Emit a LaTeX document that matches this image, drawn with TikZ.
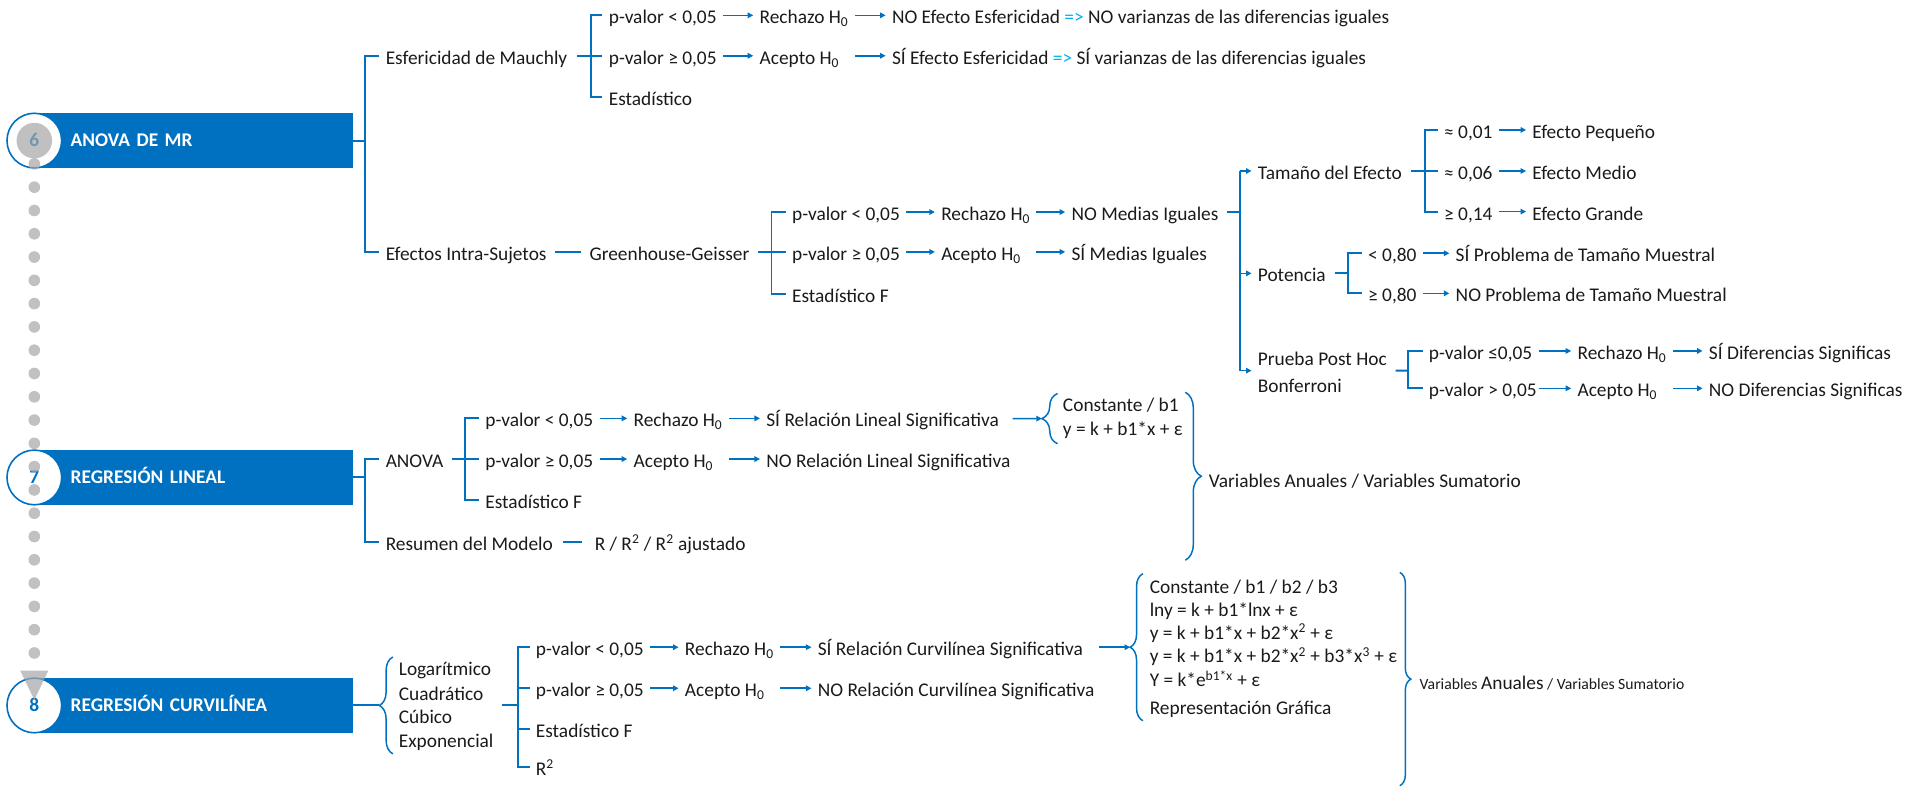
\documentclass[tikz,border=0pt]{standalone}
\usepackage{fontspec}
\setmainfont{Carlito}
\usetikzlibrary{arrows.meta,calc,decorations.pathreplacing}
\definecolor{azul}{HTML}{0070C0}
\definecolor{celeste}{HTML}{00B0F0}
\definecolor{gris}{HTML}{A6A6A6}
\definecolor{tinta}{HTML}{1A1A1A}
\newcommand{\fnorm}{\fontsize{15.8pt}{19pt}\selectfont}
\newcommand{\fchico}{\fontsize{12.8pt}{15pt}\selectfont}

\begin{document}
\begin{tikzpicture}[x=1pt,y=-1pt,>={Triangle[length=4.5pt,width=4.5pt]},
  txt/.style={anchor=west,inner xsep=5pt,inner ysep=0pt,text height=14pt,text depth=0pt,font=\fnorm,text=tinta},
  banda/.style={anchor=west,fill=azul,text=white,font=\fnorm\bfseries,minimum height=44.3pt,
    text width=200.5pt,inner xsep=29.5pt,inner ysep=0pt,text height=10.2pt,text depth=0pt,align=left},
  numero/.style={circle,draw=azul,fill=white,line width=1.3pt,minimum size=44.6pt,inner sep=0pt,
    font=\fnorm\bfseries,text=azul,text height=10pt,text depth=0pt},
  brk/.style={draw=azul,line width=1.6pt},
  arr/.style={draw=azul,line width=1.3pt,->},
  llave/.style={draw=azul,line width=1.2pt,decorate,decoration={brace,amplitude=#1}},
  puntos/.style={gris,opacity=.7,line width=9.5pt,line cap=round,dash pattern=on 0pt off 19pt}]
  \useasboundingbox (0,0) rectangle (1568,642);

  % bandas y numeros
  \node[banda] (b6) at (28,114.7) {ANOVA DE MR};
  \node[banda] (b7) at (28,389.5) {REGRESIÓN LINEAL};
  \node[banda] (b8) at (28,575.5) {REGRESIÓN CURVILÍNEA};
  \node[numero] (n6) at (28,114.7) {6};
  \node[numero] (n7) at (28,389.5) {7};
  \node[numero] (n8) at (28,575.5) {8};
  % linea de puntos 6 -> 8
  \fill[gris,opacity=.7] (n6.center) circle (14.5);
  \draw[puntos,-{Triangle[length=24pt,width=23pt,line width=0pt]}]
    ([yshift=-19pt]n6.center) -- ([yshift=4.5pt]n8.center);

  % 6: ANOVA DE MR
  \node[txt] (mau) at (309.5,45.5) {Esfericidad de Mauchly};
  \node[txt] (ef) at (309.5,205.5) {Efectos Intra-Sujetos};
  \coordinate (bA) at (298,114.7);
  \draw[brk] (b6.east) -- (bA);
  \draw[brk] (mau.west) -| (bA) |- (ef.west);

  % esfericidad
  \node[txt] (pM1) at (491.5,12.5) {p-valor < 0,05};
  \node[txt] (pM2) at (491.5,45.5) {p-valor ≥ 0,05};
  \node[txt] (pM3) at (491.5,79) {Estadístico};
  \coordinate (bM) at (482,45.5);
  \draw[brk,shorten <=3pt] (mau) -- (bM);
  \draw[brk] (pM1.west) -| (bM) |- (pM3.west);
  \draw[brk] (bM) -- (pM2.west);
  \node[txt] (rM1) at (614.5,12.5) {Rechazo H\textsubscript{0}};
  \node[txt] (rM2) at (614.5,45.5) {Acepto H\textsubscript{0}};
  \node[txt] (eM1) at (722.5,12.5) {NO Efecto Esfericidad {\color{celeste}=>} NO varianzas de las diferencias iguales};
  \node[txt] (eM2) at (722.5,45.5) {SÍ Efecto Esfericidad {\color{celeste}=>} SÍ varianzas de las diferencias iguales};
  \draw[arr] (pM1) -- (rM1);
  \draw[arr] (pM2) -- (rM2);
  \draw[arr] (rM1) -- (eM1);
  \draw[arr] (rM1.east |- rM2) -- (eM2);

  % intra-sujetos
  \node[txt] (gg) at (475.8,205.5) {Greenhouse-Geisser};
  \draw[brk,shorten <=2pt,shorten >=2pt] (ef) -- (gg);
  \node[txt] (pG1) at (641,173) {p-valor < 0,05};
  \node[txt] (pG2) at (641,205.5) {p-valor ≥ 0,05};
  \node[txt] (pG3) at (641,239.5) {Estadístico F};
  \coordinate (bG) at (629.4,205.5);
  \draw[brk,shorten <=2pt] (gg) -- (bG);
  \draw[brk] (pG1.west) -| (bG) |- (pG3.west);
  \draw[brk] (bG) -- (pG2.west);
  \node[txt] (rG1) at (762.7,173) {Rechazo H\textsubscript{0}};
  \node[txt] (rG2) at (762.7,205.5) {Acepto H\textsubscript{0}};
  \node[txt] (mG1) at (869,173) {NO Medias Iguales};
  \node[txt] (mG2) at (869,205.5) {SÍ Medias Iguales};
  \draw[arr] (pG1) -- (rG1);
  \draw[arr] (pG2) -- (rG2);
  \draw[arr] (rG1) -- (mG1);
  \draw[arr] (rG1.east |- rG2) -- (mG2);

  % medias distintas
  \node[txt] (ta) at (1021,139.5) {Tamaño del Efecto};
  \node[txt] (po) at (1021,223) {Potencia};
  \node[txt] (ph1) at (1021,291.2) {Prueba Post Hoc};
  \node[txt] (ph2) at (1021,313.5) {Bonferroni};
  \coordinate (phm) at ($(ph1.west)!.5!(ph2.west)$);
  \coordinate (bN) at (1011.7,173);
  \draw[brk,shorten <=2pt] (mG1) -- (bN);
  \draw[brk] (bN |- ta.west) -- (bN |- phm);
  \draw[arr] (bN |- ta.west) -- (ta.west);
  \draw[arr] (bN |- po.west) -- (po.west);
  \draw[arr] (bN |- phm) -- (phm);

  % tamano del efecto
  \node[txt] (e1) at (1173,106) {≈ 0,01};
  \node[txt] (e2) at (1173,139.5) {≈ 0,06};
  \node[txt] (e3) at (1173,172.6) {≥ 0,14};
  \coordinate (bT) at (1162.3,139.5);
  \draw[brk,shorten <=2pt] (ta) -- (bT);
  \draw[brk] (e1.west) -| (bT) |- (e3.west);
  \draw[brk] (bT) -- (e2.west);
  \node[txt] (f1) at (1245,106) {Efecto Pequeño};
  \node[txt] (f2) at (1245,139.5) {Efecto Medio};
  \node[txt] (f3) at (1245,172.6) {Efecto Grande};
  \draw[arr] (e1) -- (f1);
  \draw[arr] (e1.east |- e2) -- (f2);
  \draw[arr] (e1.east |- e3) -- (f3);

  % potencia
  \node[txt] (q1) at (1111,206.6) {< 0,80};
  \node[txt] (q2) at (1111,239.3) {≥ 0,80};
  \coordinate (bQ) at (1099.9,223);
  \draw[brk,shorten <=2pt] (po) -- (bQ);
  \draw[brk] (q1.west) -| (bQ) |- (q2.west);
  \node[txt] (w1) at (1182.4,206.6) {SÍ Problema de Tamaño Muestral};
  \node[txt] (w2) at (1182.4,239.3) {NO Problema de Tamaño Muestral};
  \draw[arr] (q1) -- (w1);
  \draw[arr] (q1.east |- q2) -- (w2);

  % post hoc
  \node[txt] (d1) at (1160.5,286.3) {p-valor ≤0,05};
  \node[txt] (d2) at (1160.5,316.8) {p-valor > 0,05};
  \coordinate (bP) at (1149,302.35);
  \draw[brk,shorten <=2pt] (ph1.east |- phm) -- (bP);
  \draw[brk] (d1.west) -| (bP) |- (d2.west);
  \node[txt] (r1) at (1281.8,286.3) {Rechazo H\textsubscript{0}};
  \node[txt] (r2) at (1281.8,316.8) {Acepto H\textsubscript{0}};
  \node[txt] (s1) at (1389,286.3) {SÍ Diferencias Significas};
  \node[txt] (s2) at (1389,316.8) {NO Diferencias Significas};
  \draw[arr] (d1) -- (r1);
  \draw[arr] (d1.east |- d2) -- (r2);
  \draw[arr] (r1) -- (s1);
  \draw[arr] (r1.east |- r2) -- (s2);

  % 7: REGRESION LINEAL
  \node[txt] (an) at (309.5,374.5) {ANOVA};
  \node[txt] (rs) at (309.5,441.9) {Resumen del Modelo};
  \coordinate (bB) at (298,389.5);
  \draw[brk] (b7.east) -- (bB);
  \draw[brk] (an.west) -| (bB) |- (rs.west);
  \node[txt] (pA1) at (390.8,341.3) {p-valor < 0,05};
  \node[txt] (pA2) at (390.8,374.5) {p-valor ≥ 0,05};
  \node[txt] (pA3) at (390.8,407.9) {Estadístico F};
  \coordinate (bR) at (379.2,374.5);
  \draw[brk,shorten <=2pt] (an) -- (bR);
  \draw[brk] (pA1.west) -| (bR) |- (pA3.west);
  \draw[brk] (bR) -- (pA2.west);
  \node[txt] (rA1) at (511.7,341.3) {Rechazo H\textsubscript{0}};
  \node[txt] (rA2) at (511.7,374.5) {Acepto H\textsubscript{0}};
  \node[txt] (sA1) at (620,341.3) {SÍ Relación Lineal Significativa};
  \node[txt] (sA2) at (620,374.5) {NO Relación Lineal Significativa};
  \draw[arr] (pA1) -- (rA1);
  \draw[arr] (pA2) -- (rA2);
  \draw[arr] (rA1) -- (sA1);
  \draw[arr] (rA1.east |- rA2) -- (sA2);
  \node[txt] (rr) at (480,441.9) {R / R\textsuperscript{2} / R\textsuperscript{2} ajustado};
  \draw[brk,shorten <=3pt,shorten >=5pt] (rs) -- (rr);
  % coeficientes lineales
  \coordinate (c1t) at (850,341.5);
  \draw[llave=12.8pt] (862.8,362) -- (862.8,321);
  \draw[arr,shorten <=6pt] (sA1) -- (c1t);
  \node[txt] (k1) at (862,328.9) {Constante / b1};
  \node[txt] (k2) at (862,348.5) {y = k + b1*x + ε};
  \draw[llave=13pt] (967,320) -- (967,457);
  \node[txt] (va) at (981,390.4) {Variables Anuales / Variables Sumatorio};

  % 8: REGRESION CURVILINEA
  \coordinate (c3t) at (309.5,575.5);
  \draw[brk] (b8) -- (c3t);
  \draw[llave=11pt] (320.5,615) -- (320.5,536);
  \node[txt] (lg) at (320.2,544) {Logarítmico};
  \node[txt] (cu) at (320.2,564.5) {Cuadrático};
  \node[txt] (cb) at (320.2,583.5) {Cúbico};
  \node[txt] (ex) at (320.2,602.5) {Exponencial};
  \node[txt] (pC1) at (432,528) {p-valor < 0,05};
  \node[txt] (pC2) at (432,561.5) {p-valor ≥ 0,05};
  \node[txt] (pC3) at (432,595) {Estadístico F};
  \node[txt] (pC4) at (432,625.5) {R\textsuperscript{2}};
  \coordinate (bC) at (422.4,575.5);
  \draw[brk,shorten <=2pt] (ex.east |- bC) -- (bC);
  \draw[brk] (pC1.west) -| (bC) |- (pC4.west);
  \draw[brk] (bC |- pC2.west) -- (pC2.west);
  \draw[brk] (bC |- pC3.west) -- (pC3.west);
  \node[txt] (rC1) at (553.6,528) {Rechazo H\textsubscript{0}};
  \node[txt] (rC2) at (553.6,561.5) {Acepto H\textsubscript{0}};
  \node[txt] (sC1) at (662,528) {SÍ Relación Curvilínea Significativa};
  \node[txt] (sC2) at (662,561.5) {NO Relación Curvilínea Significativa};
  \draw[arr] (pC1) -- (rC1);
  \draw[arr] (pC2) -- (rC2);
  \draw[arr] (rC1) -- (sC1);
  \draw[arr] (rC1.east |- rC2) -- (sC2);
  % modelos curvilineos
  \coordinate (c4t) at (922,528);
  \draw[llave=10.4pt] (932.4,588) -- (932.4,468);
  \draw[arr,shorten <=8pt] (sC1) -- (c4t);
  \node[txt] (fo1) at (932.8,477) {Constante / b1 / b2 / b3};
  \node[txt] (fo2) at (932.8,496) {lny = k + b1*lnx + ε};
  \node[txt] (fo3) at (932.8,514.5) {y = k + b1*x + b2*x\textsuperscript{2} + ε};
  \node[txt] (fo4) at (932.8,533.5) {y = k + b1*x + b2*x\textsuperscript{2} + b3*x\textsuperscript{3} + ε};
  \node[txt] (fo5) at (932.8,553) {Y = k*e\textsuperscript{b1*x} + ε};
  \node[txt] (fo6) at (932.8,576) {Representación Gráfica};
  \draw[llave=9pt] (1142,467) -- (1142,641);
  \node[txt] (vb) at (1153,555.5) {{\fchico Variables }Anuales{\fchico{} / Variables Sumatorio}};
\end{tikzpicture}
\end{document}
